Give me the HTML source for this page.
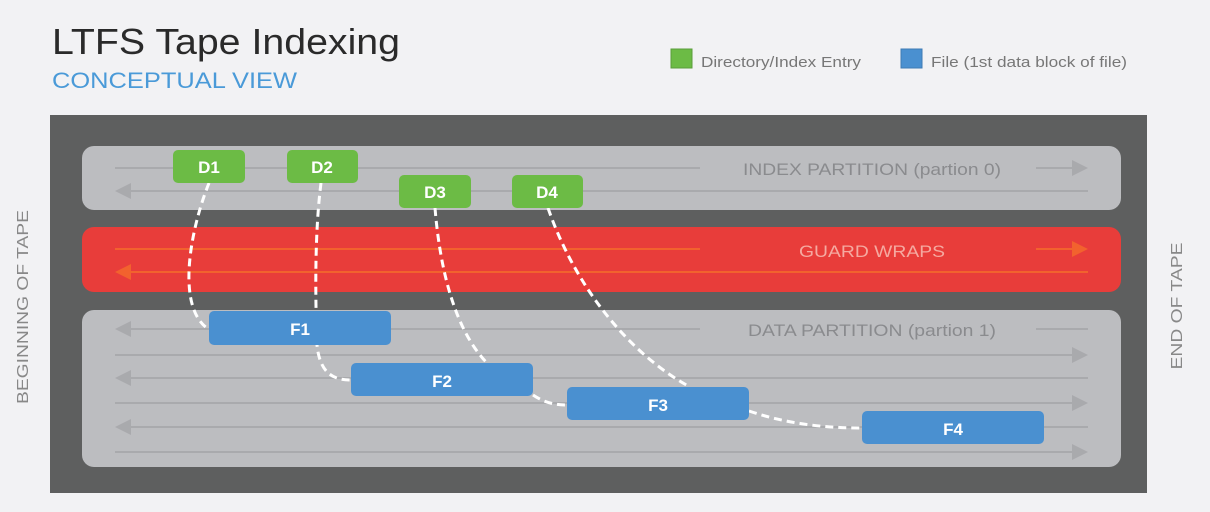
<!DOCTYPE html>
<html><head><style>html,body{margin:0;padding:0;background:#f2f2f4;}svg{display:block}</style></head>
<body>
<svg width="1210" height="512" viewBox="0 0 1210 512" xmlns="http://www.w3.org/2000/svg" font-family="Liberation Sans, sans-serif">
<rect width="1210" height="512" fill="#f2f2f4"/>
<text x="52" y="54" font-size="36" fill="#2a2a2a" textLength="348" lengthAdjust="spacingAndGlyphs">LTFS Tape Indexing</text>
<text x="52" y="88" font-size="22" fill="#4a9ad8" textLength="245" lengthAdjust="spacingAndGlyphs">CONCEPTUAL VIEW</text>
<rect x="671" y="49" width="21" height="19" fill="#6cbb45" stroke="#5a9e3a" stroke-width="1"/>
<text x="701" y="67" font-size="15" fill="#777" textLength="160" lengthAdjust="spacingAndGlyphs">Directory/Index Entry</text>
<rect x="901" y="49" width="21" height="19" fill="#4a90d0" stroke="#3d7bb5" stroke-width="1"/>
<text x="931" y="67" font-size="15" fill="#777" textLength="196" lengthAdjust="spacingAndGlyphs">File (1st data block of file)</text>
<text transform="translate(28,307) rotate(-90)" text-anchor="middle" font-size="16" fill="#888" textLength="194" lengthAdjust="spacingAndGlyphs">BEGINNING OF TAPE</text>
<text transform="translate(1182,306) rotate(-90)" text-anchor="middle" font-size="16" fill="#888" textLength="127" lengthAdjust="spacingAndGlyphs">END OF TAPE</text>
<rect x="50" y="115" width="1097" height="378" fill="#5e5f5f"/>
<rect x="82" y="146" width="1039" height="64" rx="12" fill="#bcbdc0"/>
<rect x="82" y="227" width="1039" height="65" rx="12" fill="#e83d3a"/>
<rect x="82" y="310" width="1039" height="157" rx="12" fill="#bcbdc0"/>
<g stroke="#a9aaad" stroke-width="2" fill="#a9aaad">
<line x1="115" y1="168" x2="700" y2="168"/><line x1="1036" y1="168" x2="1075" y2="168"/><path d="M1088 168 l-16 -8 v16z" stroke="none"/>
<line x1="125" y1="191" x2="1088" y2="191"/><path d="M115 191 l16 -8 v16z" stroke="none"/>
<line x1="125" y1="329" x2="700" y2="329"/><line x1="1036" y1="329" x2="1088" y2="329"/><path d="M115 329 l16 -8 v16z" stroke="none"/>
<line x1="115" y1="355" x2="1075" y2="355"/><path d="M1088 355 l-16 -8 v16z" stroke="none"/>
<line x1="125" y1="378" x2="1088" y2="378"/><path d="M115 378 l16 -8 v16z" stroke="none"/>
<line x1="115" y1="403" x2="1075" y2="403"/><path d="M1088 403 l-16 -8 v16z" stroke="none"/>
<line x1="125" y1="427" x2="1088" y2="427"/><path d="M115 427 l16 -8 v16z" stroke="none"/>
<line x1="115" y1="452" x2="1075" y2="452"/><path d="M1088 452 l-16 -8 v16z" stroke="none"/>
</g>
<g stroke="#f2622e" stroke-width="2" fill="#f2622e">
<line x1="115" y1="249" x2="700" y2="249"/><line x1="1036" y1="249" x2="1075" y2="249"/><path d="M1088 249 l-16 -8 v16z" stroke="none"/>
<line x1="125" y1="272" x2="1088" y2="272"/><path d="M115 272 l16 -8 v16z" stroke="none"/>
</g>
<text x="872" y="175" text-anchor="middle" font-size="17" fill="#8a8b8e" textLength="258" lengthAdjust="spacingAndGlyphs">INDEX PARTITION (partion 0)</text>
<text x="872" y="257" text-anchor="middle" font-size="17" fill="#f5a9a0" textLength="146" lengthAdjust="spacingAndGlyphs">GUARD WRAPS</text>
<text x="872" y="336" text-anchor="middle" font-size="17" fill="#8a8b8e" textLength="248" lengthAdjust="spacingAndGlyphs">DATA PARTITION (partion 1)</text>
<g fill="none" stroke="#fff" stroke-width="3" stroke-dasharray="8 5">
<path d="M209 183 C 190 230, 175 310, 210 330"/>
<path d="M321 183 C 315 230, 315 290, 317 345 C 320 375, 335 380, 351 380"/>
<path d="M435 208 C 440 270, 455 330, 487 363"/>
<path d="M533 395 C 545 403, 555 405, 567 405"/>
<path d="M548 208 C 580 300, 640 360, 690 387"/>
<path d="M749 411 C 790 425, 830 428, 862 428"/>
</g>
<g font-size="17" font-weight="bold" fill="#fff" text-anchor="middle">
<rect x="173" y="150" width="72" height="33" rx="5" fill="#6cbb45"/><text x="209" y="173">D1</text>
<rect x="287" y="150" width="71" height="33" rx="5" fill="#6cbb45"/><text x="322" y="173">D2</text>
<rect x="399" y="175" width="72" height="33" rx="5" fill="#6cbb45"/><text x="435" y="198">D3</text>
<rect x="512" y="175" width="71" height="33" rx="5" fill="#6cbb45"/><text x="547" y="198">D4</text>
<rect x="209" y="311" width="182" height="34" rx="5" fill="#4a90d0"/><text x="300" y="335">F1</text>
<rect x="351" y="363" width="182" height="33" rx="5" fill="#4a90d0"/><text x="442" y="387">F2</text>
<rect x="567" y="387" width="182" height="33" rx="5" fill="#4a90d0"/><text x="658" y="411">F3</text>
<rect x="862" y="411" width="182" height="33" rx="5" fill="#4a90d0"/><text x="953" y="435">F4</text>
</g>
</svg>
</body></html>
